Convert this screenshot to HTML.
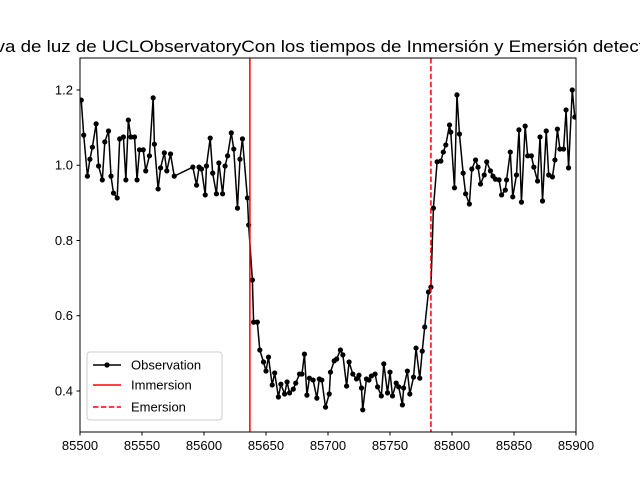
<!DOCTYPE html>
<html><head><meta charset="utf-8"><style>
body{margin:0;background:#fff;overflow:hidden;}
svg{font-family:"Liberation Sans","DejaVu Sans",sans-serif;}
</style></head><body>
<svg width="640" height="480" viewBox="0 0 640 480">
<rect width="640" height="480" fill="#fff"/>
<text x="325" y="52" text-anchor="middle" font-size="17" textLength="719" lengthAdjust="spacingAndGlyphs">Curva de luz de UCLObservatoryCon los tiempos de Inmersión y Emersión detectados</text>
<g id="plot"></g>
</svg>
<script>
const times=[85501,85503,85506,85508,85510,85513,85515,85518,85520,85523,85525,85527,85530,85532,85535,85537,85539,85541,85544,85546,85548,85551,85553,85556,85559,85560,85563,85565,85568,85570,85573,85576,
85591,85594,85596,85598,85601,85602,85605,85607,85610,85612,85615,85617,85619,85622,85624,85627,85629,85631,85635,85636,85639,85640,85643,85645,85648,85650,85652,85655,85657,85660,85662,85665,85667,85669,85672,85674,85677,85679,85681,85683,85685,85688,85691,85693,85695,85698,85701,85702,85705,85707,85710,85712,85715,85717,85720,85723,85725,85727,85728,85731,85733,85735,85738,85740,85743,85745,85748,85750,85752,85755,85757,85760,85761,85764,85766,85769,85771,85774,85776,85778,85781,85783,
85785,85788,85791,85793,85795,85798,85799,85802,85804,85806,85809,85811,85814,85816,85819,85821,85823,85826,85828,85831,85833,85835,85838,85840,85843,85844,85847,85849,85852,85854,85856,85859,85861,85864,85866,85869,85871,85873,85876,85878,85881,85883,85885,85887,85890,85892,85894,85897,85899];
const flux=[1.173,1.080,0.971,1.016,1.048,1.110,0.998,0.961,1.062,1.091,0.971,0.926,0.913,1.070,1.075,0.961,1.120,1.075,1.075,0.961,1.041,1.041,0.985,1.025,1.179,1.056,0.937,0.993,1.033,0.985,1.030,0.971,
0.995,0.947,0.995,0.990,0.921,0.998,1.072,0.979,0.924,1.006,0.924,0.998,1.025,1.086,1.043,0.886,1.016,1.070,0.913,0.841,0.695,0.583,0.583,0.509,0.477,0.453,0.490,0.416,0.448,0.384,0.418,0.392,0.424,0.395,0.405,0.421,0.445,0.445,0.498,0.389,0.434,0.429,0.381,0.432,0.429,0.357,0.392,0.450,0.480,0.485,0.509,0.496,0.413,0.477,0.445,0.432,0.442,0.408,0.350,0.432,0.429,0.440,0.445,0.411,0.387,0.472,0.395,0.450,0.387,0.421,0.411,0.363,0.408,0.453,0.392,0.437,0.514,0.434,0.506,0.570,0.663,0.676,
0.886,1.009,1.011,1.035,1.054,1.107,1.088,0.940,1.187,1.083,0.979,0.924,0.897,0.990,1.014,0.995,0.950,0.974,1.009,0.985,0.971,0.963,0.961,0.921,0.934,0.961,1.035,0.916,0.974,1.094,0.902,1.104,1.025,1.025,0.995,0.958,1.075,0.905,1.091,0.974,0.969,1.014,1.096,1.043,1.043,1.147,0.993,1.200,1.128];
const immersion=85637;
const emersion=85783;
const xTicks=[85500,85550,85600,85650,85700,85750,85800,85850,85900];
const yTicks=[0.4,0.6,0.8,1.0,1.2];
const xMin=85500,xMax=85900,yMin=0.291,yMax=1.285;
const L=80,R=576,T=58,B=432;
const sx=v=>L+(v-xMin)/(xMax-xMin)*(R-L);
const sy=v=>B-(v-yMin)/(yMax-yMin)*(B-T);
const NS='http://www.w3.org/2000/svg';
const g=document.getElementById('plot');
function mk(t,a){const e=document.createElementNS(NS,t);for(const k in a)e.setAttribute(k,a[k]);g.appendChild(e);return e;}
const cp=mk('clipPath',{id:'cp'});
const cr=document.createElementNS(NS,'rect');cr.setAttribute('x',L);cr.setAttribute('y',T);cr.setAttribute('width',R-L);cr.setAttribute('height',B-T);cp.appendChild(cr);
const series=mk('polyline',{points:times.map((t,i)=>sx(t)+','+sy(flux[i])).join(' '),fill:'none',stroke:'#000','stroke-width':1.5,'clip-path':'url(#cp)'});


times.forEach((t,i)=>{const c=mk('circle',{cx:sx(t),cy:sy(flux[i]),r:2.6,fill:'#000','clip-path':'url(#cp)'});

});
const im=mk('line',{x1:sx(immersion),x2:sx(immersion),y1:T,y2:B,stroke:'#f00','stroke-width':1.5});


const em=mk('line',{x1:sx(emersion),x2:sx(emersion),y1:T,y2:B,stroke:'#f00','stroke-width':1.5,'stroke-dasharray':'5.5,2.4'});


const fr=mk('rect',{x:L,y:T,width:R-L,height:B-T,fill:'none',stroke:'#000','stroke-width':1});


xTicks.forEach(v=>{mk('line',{x1:sx(v),x2:sx(v),y1:B,y2:B+3.5,stroke:'#000'});
const t=mk('text',{x:sx(v),y:B+18,'text-anchor':'middle','font-size':13});t.textContent=v;

});
yTicks.forEach(v=>{mk('line',{x1:L-3.5,x2:L,y1:sy(v),y2:sy(v),stroke:'#000'});
const t=mk('text',{x:L-7,y:sy(v)+4.5,'text-anchor':'end','font-size':13});t.textContent=v.toFixed(1);

});
const lg=mk('rect',{x:87,y:352,width:135,height:68,rx:3,fill:'#fff','fill-opacity':0.8,stroke:'#ccc'});


const items=[['Observation',365,''],['Immersion',385,''],['Emersion',407,'5.5,2.4']];
items.forEach((it,i)=>{const col=i==0?'#000':'#f00';
mk('line',{x1:93,x2:121,y1:it[1],y2:it[1],stroke:col,'stroke-width':1.5,'stroke-dasharray':it[2]||'none'});
if(i==0)mk('circle',{cx:107,cy:it[1],r:2.6,fill:'#000'});
const t=mk('text',{x:131,y:it[1]+4.5,'font-size':13});t.textContent=it[0];

});
</script>
</body></html>
